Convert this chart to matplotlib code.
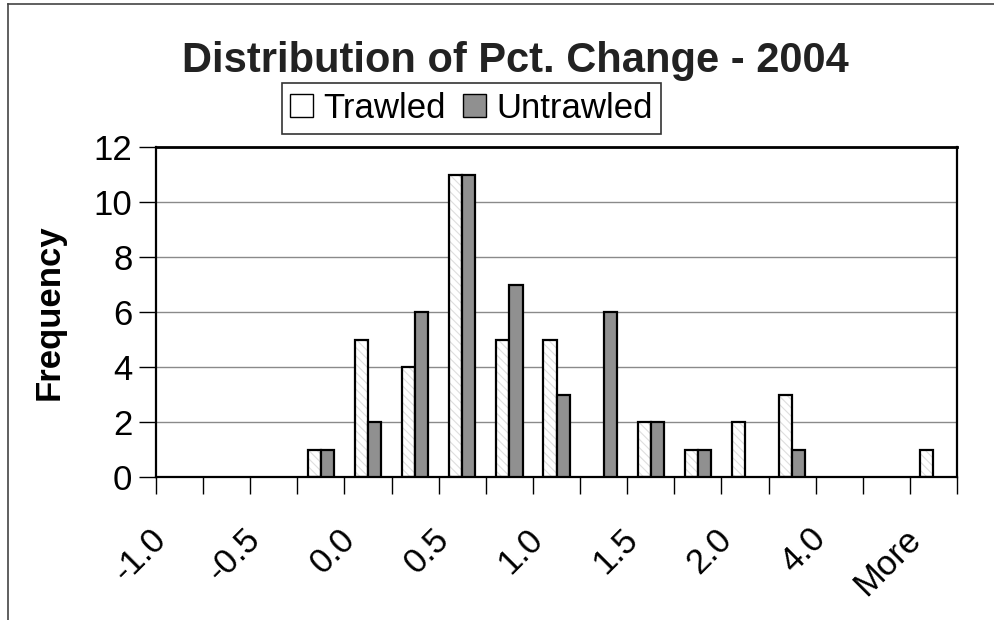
import numpy as np
import matplotlib.pyplot as plt
from matplotlib.patches import Patch
from matplotlib.lines import Line2D
from matplotlib.transforms import offset_copy

plt.rcParams['font.family'] = ['Liberation Sans', 'DejaVu Sans']
plt.rcParams['hatch.linewidth'] = 0.8

# histogram bins (upper edges) and counts per bin
bins = ['-1.0', '-0.75', '-0.5', '-0.25', '0.0', '0.25', '0.5', '0.75', '1.0',
        '1.25', '1.5', '1.75', '2.0', '3.0', '4.0', '5.0', 'More']
trawled = [0, 0, 0, 1, 5, 4, 11, 5, 5, 0, 2, 1, 2, 3, 0, 0, 1]
untrawled = [0, 0, 0, 1, 2, 6, 11, 7, 3, 6, 2, 1, 0, 1, 0, 0, 0]
yticks = [0, 2, 4, 6, 8, 10, 12]

x = np.arange(len(bins))
w = 0.28
t = np.array(trawled)
u = np.array(untrawled)
tm = t > 0
um = u > 0

fig = plt.figure(figsize=(9.95, 6.2), dpi=100)
ax = fig.add_axes([0.1568, 0.2306, 0.805, 0.5323])

# trawled: white with a faint diagonal hatch, outline drawn on top
ax.bar(x[tm] - w / 2, t[tm], w, color='white', hatch='\\\\\\\\', edgecolor='#dedede',
       linewidth=0, zorder=2)
ax.bar(x[tm] - w / 2, t[tm], w, fill=False, edgecolor='black', linewidth=1.6, zorder=3)
ax.bar(x[um] + w / 2, u[um], w, color='#909090', edgecolor='black', linewidth=1.6,
       zorder=3)

ax.set_xlim(-0.5, len(bins) - 0.5)
ax.set_ylim(0, 12)
ax.set_yticks(yticks)
ax.tick_params(axis='y', labelsize=25, length=12, width=1, direction='out', pad=5)
ax.yaxis.grid(True, color='#8a8a8a', linewidth=1)
ax.set_axisbelow(True)

# category boundaries get the tick marks; every other bin gets a label
ax.set_xticks(np.arange(len(bins) + 1) - 0.5)
ax.set_xticklabels([])
ax.tick_params(axis='x', length=12, width=1, direction='out')
lab_tr = offset_copy(ax.transData, fig=fig, x=-30, y=-45, units='dots')
for i in x[::2]:
    ax.text(i, 0, bins[i], transform=lab_tr, rotation=45, ha='right', va='top',
            rotation_mode='anchor', fontsize=25, clip_on=False)

for side in ['left', 'bottom', 'right']:
    ax.spines[side].set_linewidth(1.6)
ax.spines['top'].set_linewidth(2)

ax.set_ylabel('Frequency', fontsize=25, fontweight='bold', labelpad=20)

fig.text(0.518, 0.884, 'Distribution of Pct. Change - 2004', ha='center',
         va='baseline', fontsize=30, fontweight='bold', color='#222222')

handles = [Patch(facecolor='white', edgecolor='black', linewidth=1),
           Patch(facecolor='#909090', edgecolor='black', linewidth=1)]
leg = fig.legend(handles, ['Trawled', 'Untrawled'], loc='center',
                 bbox_to_anchor=(0.474, 0.825), ncol=2, fontsize=25,
                 frameon=True, fancybox=False, handlelength=0.65, handleheight=0.65,
                 handletextpad=0.3, columnspacing=0.5, borderpad=0.25,
                 borderaxespad=0)
leg.get_frame().set_edgecolor('black')
leg.get_frame().set_linewidth(1.2)

# outer chart frame (top and left edges)
fig.add_artist(Line2D([0.008, 1.0], [0.994, 0.994], color='#444444', linewidth=1.2))
fig.add_artist(Line2D([0.008, 0.008], [0.0, 0.994], color='#444444', linewidth=1.2))

fig.savefig('out.png', dpi=100)
